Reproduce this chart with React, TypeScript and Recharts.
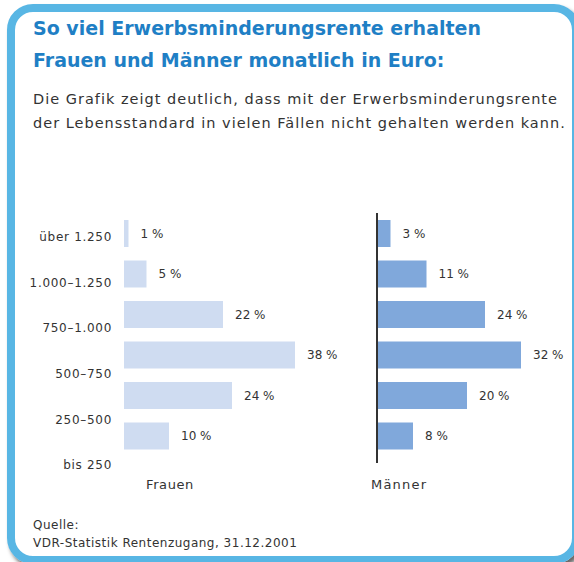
import React from 'react';
import { BarChart, Bar, XAxis, YAxis, LabelList } from 'recharts';

const ranges = ['über 1.250', '1.000–1.250', '750–1.000', '500–750', '250–500', 'bis 250'];
const frauen = [1, 5, 22, 38, 24, 10];
const maenner = [3, 11, 24, 32, 20, 8];

const data = ranges.map((range, i) => ({ range, frauen: frauen[i], maenner: maenner[i] }));

const FONT = '"DejaVu Sans", sans-serif';
const BORDER = '#58b6e4';
const TITLE = '#1f7fc5';
const TEXT = '#333333';

const pct = (v: number) => `${v} %`;

export default function App() {
  return (
    <div
      style={{
        position: 'fixed',
        left: 0,
        top: 0,
        width: 574,
        height: 562,
        overflow: 'hidden',
        background: '#ffffff',
        fontFamily: FONT,
      }}
    >
      <div
        style={{
          position: 'absolute',
          left: 7,
          top: 4,
          width: 573,
          height: 560,
          boxSizing: 'border-box',
          border: `8px solid ${BORDER}`,
          borderRadius: 26,
          boxShadow: '3px 4px 4px rgba(0,0,0,0.6)',
        }}
      />
      <div style={{ position: 'absolute', left: 33, top: 12, fontSize: 19, fontWeight: 'bold', lineHeight: '32px', color: TITLE }}>
        So viel Erwerbsminderungsrente erhalten
        <br />
        Frauen und Männer monatlich in Euro:
      </div>
      <div
        style={{ position: 'absolute', left: 33, top: 87, fontSize: 14.5, letterSpacing: 1.0, lineHeight: '24px', color: TEXT, whiteSpace: 'nowrap' }}
      >
        Die Grafik zeigt deutlich, dass mit der Erwerbsminderungsrente
        <br />
        der Lebensstandard in vielen Fällen nicht gehalten werden kann.
      </div>

      <div style={{ position: 'absolute', left: 0, top: 200 }}>
        <BarChart width={370} height={300} data={data} layout="vertical" margin={{ top: 13, right: 66, left: 24, bottom: 0 }}>
          <XAxis
            type="number"
            domain={[0, 40]}
            tick={false}
            axisLine={false}
            tickLine={false}
            height={23}
            label={{ value: 'Frauen', position: 'insideTopLeft', offset: 0, dx: 22, dy: 3, fill: TEXT, fontSize: 13, letterSpacing: 0.6 }}
          />
          <YAxis yAxisId="bars" type="category" dataKey="range" hide width={0} padding={{ top: 0, bottom: 21 }} />
          <YAxis
            yAxisId="labels"
            type="category"
            dataKey="range"
            width={100}
            axisLine={false}
            tickLine={false}
            tickMargin={6}
            padding={{ top: 1, bottom: -11 }}
            tick={{ fill: TEXT, fontSize: 12, letterSpacing: 0.7 }}
          />
          <Bar yAxisId="bars" dataKey="frauen" fill="#cfdcf1" barSize={27} isAnimationActive={false}>
            <LabelList dataKey="frauen" position="right" offset={12} formatter={pct} fill={TEXT} fontSize={12} />
          </Bar>
        </BarChart>
      </div>

      <div style={{ position: 'absolute', left: 340, top: 200 }}>
        <BarChart width={234} height={300} data={data} layout="vertical" margin={{ top: 13, right: 17, left: 36, bottom: 0 }}>
          <XAxis
            type="number"
            domain={[0, 40]}
            tick={false}
            axisLine={false}
            tickLine={false}
            height={37}
            label={{ value: 'Männer', position: 'insideTopLeft', offset: 0, dx: -6, dy: 17, fill: TEXT, fontSize: 13, letterSpacing: 1.2 }}
          />
          <YAxis
            type="category"
            dataKey="range"
            width={1}
            tick={false}
            tickLine={false}
            axisLine={{ stroke: '#333333', strokeWidth: 2 }}
            padding={{ top: 0, bottom: 7 }}
          />
          <Bar dataKey="maenner" fill="#80a8db" barSize={27} isAnimationActive={false}>
            <LabelList dataKey="maenner" position="right" offset={12} formatter={pct} fill={TEXT} fontSize={12} />
          </Bar>
        </BarChart>
      </div>

      <div style={{ position: 'absolute', left: 33, top: 516, fontSize: 12, letterSpacing: 0.5, lineHeight: '18px', color: TEXT }}>
        Quelle:
        <br />
        VDR-Statistik Rentenzugang, 31.12.2001
      </div>
    </div>
  );
}
